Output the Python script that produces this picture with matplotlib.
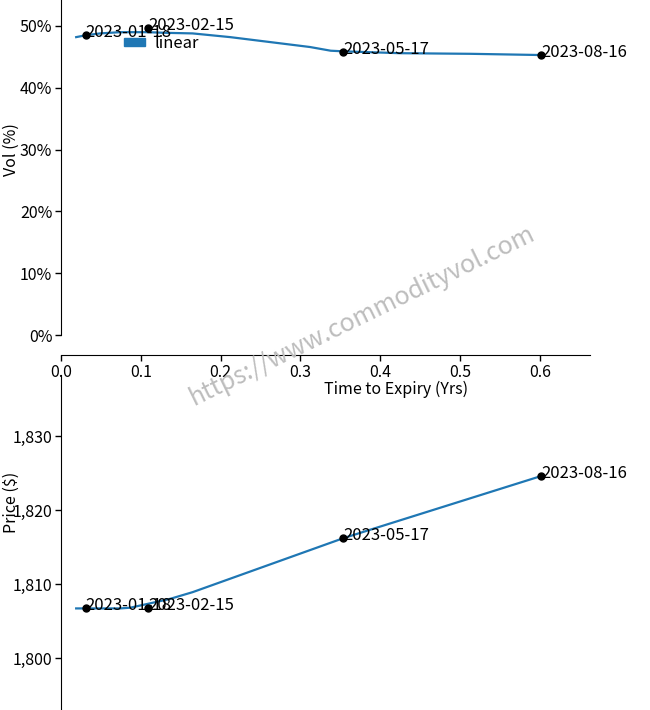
import numpy as np
import matplotlib
matplotlib.use("Agg")
import matplotlib.pyplot as plt
from matplotlib.patches import Patch
from matplotlib.ticker import FuncFormatter

plt.rcParams['font.family'] = ['Noto Sans CJK SC', 'DejaVu Sans']

# expiry points
expiries = ["2023-01-18", "2023-02-15", "2023-05-17", "2023-08-16"]
t_exp = [0.031, 0.109, 0.354, 0.602]
vol_exp = [48.5, 49.7, 45.8, 45.3]
price_exp = [1806.8, 1806.8, 1816.2, 1824.6]

# interpolated vol curve (linear)
t_vol = [0.019, 0.031, 0.049, 0.074, 0.109, 0.130, 0.165, 0.212, 0.262, 0.312, 0.338, 0.354, 0.425, 0.513, 0.602]
vol_curve = [48.2, 48.5, 48.8, 49.0, 49.0, 48.9, 48.8, 48.2, 47.4, 46.6, 46.0, 45.9, 45.6, 45.5, 45.3]

# interpolated forward curve
t_fwd = [0.019, 0.074, 0.087, 0.108, 0.137, 0.165, 0.354, 0.602]
fwd_curve = [1806.7, 1806.7, 1806.8, 1807.3, 1808.0, 1808.9, 1816.2, 1824.6]

blue = '#1f77b4'
W, H = 650, 710
fig = plt.figure(figsize=(6.5, 7.1), dpi=100)

x0, x1 = 61, 590
xmax = (x1 - x0) / 79.8 / 10

# ---- vol chart
ax = fig.add_axes([x0 / W, (H - 335) / H, (x1 - x0) / W, 335 / H])
ax.set_facecolor('none')
ax.plot(t_vol, vol_curve, color=blue, lw=1.6)
ax.scatter(t_exp, vol_exp, color='black', s=25, zorder=3)
for lab, t, v in zip(expiries, t_exp, vol_exp):
    ax.annotate(lab, (t, v), xytext=(0, -1.5), textcoords='offset points',
                ha='left', va='baseline', fontsize=12)
ax.set_xlim(0, xmax)
ax.set_ylim(0, 335 / 6.18)
ax.set_yticks([0, 10, 20, 30, 40, 50])
ax.yaxis.set_major_formatter(FuncFormatter(lambda v, p: f"{v:.0f}%"))
ax.set_xticks([0, 0.1, 0.2, 0.3, 0.4, 0.5, 0.6])
ax.xaxis.set_major_formatter(FuncFormatter(lambda v, p: f"{v:.1f}"))
ax.spines['top'].set_visible(False)
ax.spines['right'].set_visible(False)
ax.spines['bottom'].set_position(('outward', 14.4))
ax.tick_params(labelsize=11.5, length=4.3, width=1, pad=2)
ax.set_xlabel("Time to Expiry (Yrs)", fontsize=11.5)
ax.xaxis.set_label_coords(396 / W, 1 - 389 / H, transform=fig.transFigure)
ax.xaxis.label.set_va('center')
ax.set_ylabel("Vol (%)", fontsize=11.5)
ax.yaxis.set_label_coords(11 / W, 1 - 150 / H, transform=fig.transFigure)
ax.yaxis.label.set_va('center')
ax.legend(handles=[Patch(color=blue, label='linear')], loc='center left',
          bbox_to_anchor=(124 / W, 1 - 43.5 / H), bbox_transform=fig.transFigure,
          frameon=False, fontsize=12, borderpad=0, borderaxespad=0,
          handlelength=1.26, handleheight=0.44, handletextpad=0.6)

# ---- price chart
ax2 = fig.add_axes([x0 / W, 0, (x1 - x0) / W, (H - 375) / H])
ax2.set_facecolor('none')
ax2.plot(t_fwd, fwd_curve, color=blue, lw=1.6)
ax2.scatter(t_exp, price_exp, color='black', s=25, zorder=3)
for lab, t, p in zip(expiries, t_exp, price_exp):
    ax2.annotate(lab, (t, p), xytext=(0, -1.5), textcoords='offset points',
                 ha='left', va='baseline', fontsize=12)
ax2.set_xlim(0, xmax)
ax2.set_ylim(1810 - (710 - 584) / 7.4, 1810 + (584 - 375) / 7.4)
ax2.set_yticks([1800, 1810, 1820, 1830])
ax2.yaxis.set_major_formatter(FuncFormatter(lambda v, p: f"{v:,.0f}"))
for s in ['top', 'right', 'bottom']:
    ax2.spines[s].set_visible(False)
ax2.set_xticks([])
ax2.tick_params(labelsize=11.5, length=4.3, width=1, pad=2)
ax2.set_ylabel("Price ($)", fontsize=11.5)
ax2.yaxis.set_label_coords(11 / W, 1 - 502 / H, transform=fig.transFigure)
ax2.yaxis.label.set_va('center')

# watermark
fig.text(362 / W, 1 - 316 / H, "https://www.commodityvol.com", rotation=26,
         ha='center', va='center', color='#bdbdbd', fontsize=18)

fig.savefig("out.png", dpi=100)
